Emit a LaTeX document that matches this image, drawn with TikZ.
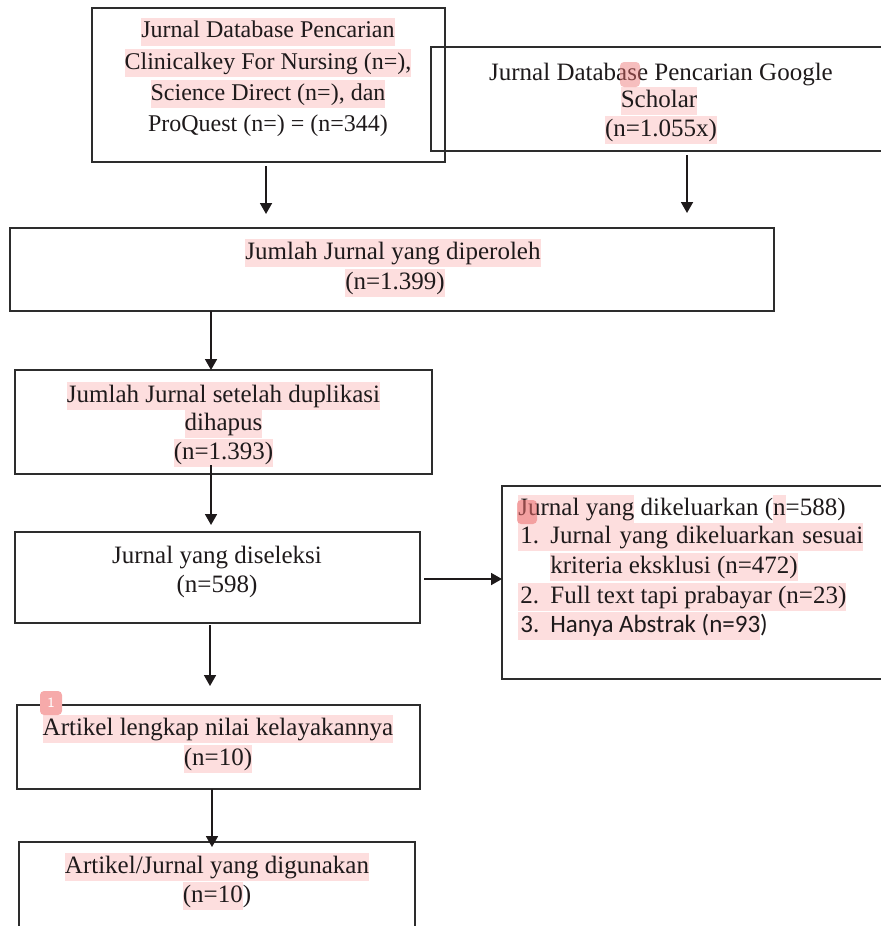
\documentclass[tikz,border=0pt]{standalone}
\usepackage{fontspec}
\setmainfont{Liberation Serif}
\newfontfamily\calfont{Carlito}
\usetikzlibrary{arrows.meta,fit}
\definecolor{hlpink}{RGB}{253,222,222}
\definecolor{ink}{RGB}{30,26,27}
\definecolor{edge}{RGB}{45,45,45}
\definecolor{markred}{RGB}{236,110,110}
\definecolor{badgepink}{RGB}{246,170,170}
\newcommand\hl[1]{{\setlength{\fboxsep}{0pt}\colorbox{hlpink}{\rule[-4.2pt]{0pt}{14pt}#1}}}
\begin{document}
\begin{tikzpicture}[x=0.5pt,y=-0.5pt,
  box/.style={draw=edge, line width=0.9pt, inner sep=0pt},
  txt/.style={anchor=base, inner sep=0pt, text=ink, font=\fontsize{12.5}{15}\selectfont},
  txtsmall/.style={txt, font=\fontsize{12}{15}\selectfont},
  txtl/.style={txt, anchor=base west},
  arr/.style={draw=ink, line width=0.9pt, -{Triangle[length=5.5pt,width=6pt]}}]
\useasboundingbox (0,0) rectangle (880,926);
% boxes
\node[box, fit={(92,8)(445,162)}] (src1) {};
\node[box, fit={(431,47)(900,151)}] (src2) {};
\node[box, fit={(10,228)(774,311)}] (total) {};
\node[box, fit={(15,370)(432,474)}] (dedup) {};
\node[box, fit={(15,532)(420,623)}] (sel) {};
\node[box, fit={(502,486)(900,679)}] (excl) {};
\node[box, fit={(17,705)(420,789)}] (full) {};
\node[box, fit={(19,842)(415,990)}] (used) {};
% texts
\node[txtsmall] (s1a) at (268,38) {\hl{Jurnal Database Pencarian}};
\node[txtsmall] (s1b) at (268,69) {\hl{Clinicalkey For Nursing (n=),}};
\node[txtsmall] (s1c) at (268,100) {\hl{Science Direct (n=), dan}};
\node[txtsmall] (s1d) at (268,131) {ProQuest (n=) = (n=344)};
\node[txt] (s2a) at (661,80) {Jurnal Database Pencarian Google};
\node[txt] (s2b) at (659,107) {\hl{Scholar}};
\node[txt] (s2c) at (661,136) {\hl{(n=1.055x)}};
\node[txt] (ta) at (393,259) {\hl{Jumlah Jurnal yang diperoleh}};
\node[txt] (tb) at (395,289) {\hl{(n=1.399)}};
\node[txt] (da) at (223.5,402) {\hl{Jumlah Jurnal setelah duplikasi}};
\node[txt] (db) at (223.5,430) {\hl{dihapus}};
\node[txt] (dc) at (223.5,459) {\hl{(n=1.393)}};
\node[txt] (sa) at (217,563) {Jurnal yang diseleksi};
\node[txt] (sb) at (217,592) {(n=598)};
\node[txtl] (ea) at (518,515) {\hl{Jurnal yang} dikeluarkan (\hl{n}=588)};
\node[txtl] (eb) at (518,543) {\hl{\makebox[16pt][l]{\kern1pt 1.}\makebox[156.5pt][s]{Jurnal yang dikeluarkan sesuai}}};
\node[txtl] (ec) at (550,573) {\hl{kriteria eksklusi (n=472)}};
\node[txtl] (ed) at (518,603) {\hl{\makebox[16pt][l]{\kern1pt 2.}Full text tapi prabayar (n=23)}};
\node[txtl] (ee) at (518,632) {\calfont\hl{\makebox[16pt][l]{\kern1pt 3.}Hanya Abstrak (n=93}){}};
\node[txt] (fa) at (218,735) {\hl{Artikel lengkap nilai kelayakannya}};
\node[txt] (fb) at (218,765) {\hl{(n=10)}};
\node[txt] (ua) at (217,873) {\hl{Artikel/Jurnal yang digunakan}};
\node[txt] (ub) at (217,902) {\hl{(n=10}{)}};
% annotation marks
\fill[markred, fill opacity=0.45, rounded corners=2pt] (620,62) rectangle (640,87);
\fill[markred, fill opacity=0.55, rounded corners=2pt] (517,500) rectangle (537,524);
\node[fill=badgepink, rounded corners=2pt, minimum width=11pt, minimum height=12pt, inner sep=0pt, text=white, font=\fontsize{7}{8}\sffamily] (badge) at (51,703) {1};
% connectors
\coordinate (a1s) at (266,166); \coordinate (a1e) at (266,214);
\coordinate (a2s) at (687,155); \coordinate (a2e) at (687,213);
\coordinate (a3s) at (211,311); \coordinate (a3e) at (211,370);
\coordinate (a4s) at (211,465); \coordinate (a4e) at (211,525);
\coordinate (a5s) at (424,579); \coordinate (a5e) at (502,579);
\coordinate (a6s) at (210,625); \coordinate (a6e) at (210,686);
\coordinate (a7s) at (212,789); \coordinate (a7e) at (212,847);
\draw[arr] (a1s) -- (a1e);
\draw[arr] (a2s) -- (a2e);
\draw[arr] (a3s) -- (a3e);
\draw[arr] (a4s) -- (a4e);
\draw[arr] (a5s) -- (a5e);
\draw[arr] (a6s) -- (a6e);
\draw[arr] (a7s) -- (a7e);
\end{tikzpicture}
\end{document}
